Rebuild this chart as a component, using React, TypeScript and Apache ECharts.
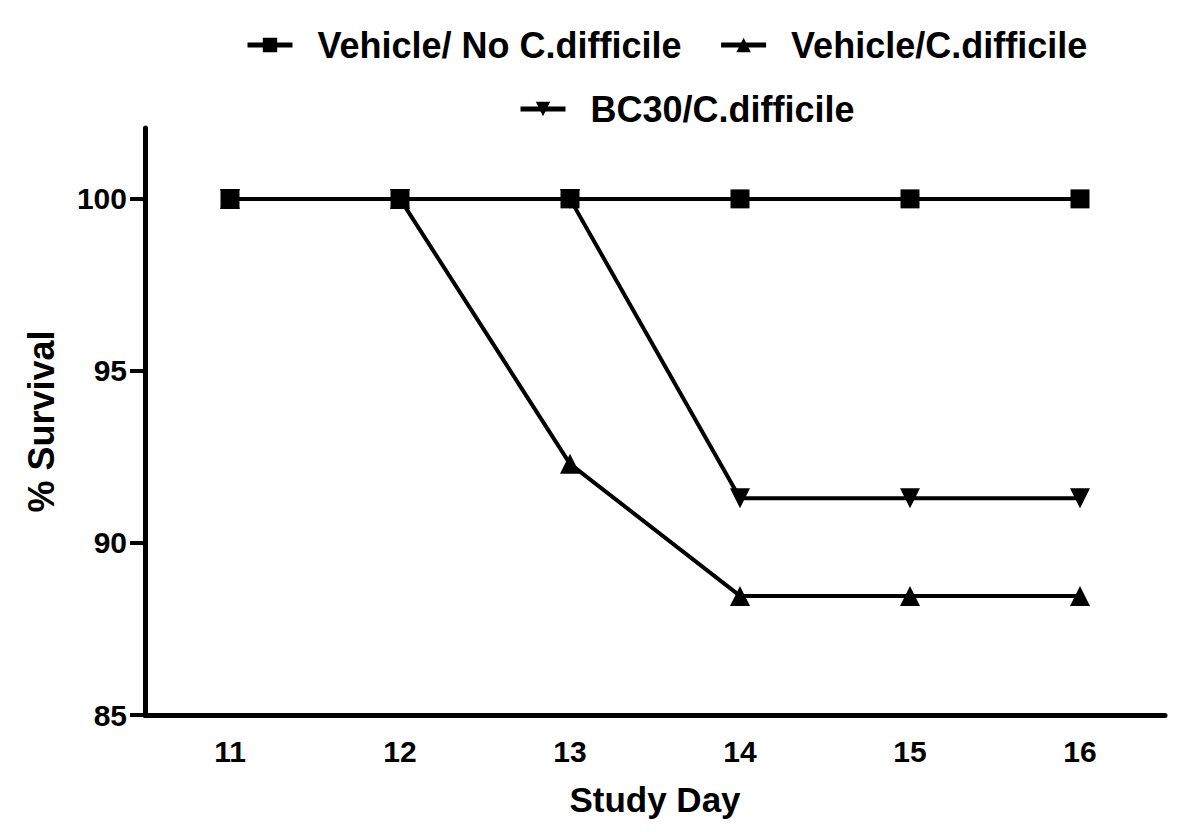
import React, { useEffect, useRef } from "react";
import * as echarts from "echarts";

const days = ["11", "12", "13", "14", "15", "16"];
const vehicleNoCdiff = [100, 100, 100, 100, 100, 100];
const vehicleCdiff = [100, 100, 92.3, 88.46, 88.46, 88.46];
const bc30Cdiff = [100, 100, 100, 91.3, 91.3, 91.3];
const yTicks = [85, 90, 95, 100];

const FONT = "'Liberation Sans', Arial, sans-serif";

export default function App() {
  const ref = useRef<HTMLDivElement>(null);
  useEffect(() => {
    if (!ref.current) return;
    const chart = echarts.init(ref.current, undefined, { renderer: "svg" });
    const lineStyle = { color: "#000", width: 4 };
    const legendText = {
      fontFamily: FONT,
      fontWeight: "bold",
      fontSize: 36,
      color: "#000",
      padding: [0, 0, 0, 20],
    };
    chart.setOption({
      animation: false,
      backgroundColor: "#fff",
      legend: [
        {
          data: ["Vehicle/ No C.difficile", "Vehicle/C.difficile"],
          left: 240,
          top: 22,
          itemWidth: 45,
          itemHeight: 18,
          itemGap: 37,
          lineStyle: { width: 5 },
          textStyle: legendText,
        },
        {
          data: ["BC30/C.difficile"],
          left: 513,
          top: 86,
          itemWidth: 45,
          itemHeight: 18,
          lineStyle: { width: 5 },
          textStyle: legendText,
        },
      ],
      grid: { left: 145, right: 35, top: 128, bottom: 117, containLabel: false },
      xAxis: {
        type: "category",
        data: days,
        boundaryGap: true,
        name: "Study Day",
        nameLocation: "middle",
        nameGap: 67,
        nameTextStyle: { fontFamily: FONT, fontWeight: "bold", fontSize: 35, color: "#000" },
        axisLine: { lineStyle: { color: "#000", width: 5 } },
        axisTick: { alignWithLabel: true, length: 15, lineStyle: { color: "#000", width: 4 } },
        axisLabel: { fontFamily: FONT, fontWeight: "bold", fontSize: 30, color: "#000", margin: 21 },
        splitLine: { show: false },
      },
      yAxis: {
        type: "value",
        min: 85,
        max: 102.06,
        name: "% Survival",
        nameLocation: "middle",
        nameGap: 86,
        nameRotate: 90,
        nameTextStyle: { fontFamily: FONT, fontWeight: "bold", fontSize: 36, color: "#000" },
        axisLine: { show: true, lineStyle: { color: "#000", width: 5 } },
        axisTick: { show: true, length: 15, customValues: yTicks, lineStyle: { color: "#000", width: 4 } },
        axisLabel: {
          fontFamily: FONT,
          fontWeight: "bold",
          fontSize: 30,
          color: "#000",
          margin: 18,
          customValues: yTicks,
        },
        splitLine: { show: false },
      },
      series: [
        {
          name: "Vehicle/C.difficile",
          type: "line",
          data: vehicleCdiff,
          symbol: "triangle",
          symbolSize: 20,
          lineStyle,
          itemStyle: { color: "#000" },
          z: 2,
        },
        {
          name: "BC30/C.difficile",
          type: "line",
          data: bc30Cdiff,
          symbol: "triangle",
          symbolRotate: 180,
          symbolSize: 20,
          lineStyle,
          itemStyle: { color: "#000" },
          z: 3,
        },
        {
          name: "Vehicle/ No C.difficile",
          type: "line",
          data: vehicleNoCdiff,
          symbol: "rect",
          symbolSize: 19,
          lineStyle,
          itemStyle: { color: "#000" },
          z: 4,
        },
      ],
    });
    return () => chart.dispose();
  }, []);
  return <div ref={ref} style={{ width: 1200, height: 832, margin: -8 }} />;
}
